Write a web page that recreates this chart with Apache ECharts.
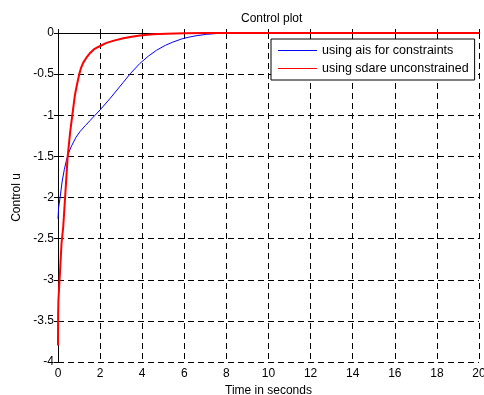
<!DOCTYPE html>
<html>
<head>
<meta charset="utf-8">
<script src="https://cdn.jsdelivr.net/npm/echarts@6/dist/echarts.min.js"></script>
<style>html,body{margin:0;padding:0;background:#fff}#c{width:484px;height:395px}</style>
</head>
<body>
<div id="c"></div>
<script>
var tBlue = [0, 0.03, 0.1, 0.2, 0.3, 0.4, 0.5, 0.65, 0.85, 1.04, 1.3, 1.52, 1.76, 2.0, 2.46, 3.1, 3.45, 3.89, 4.3, 4.68, 5.1, 5.46, 5.9, 6.26, 6.65, 7.05, 7.5, 8, 9, 20];
var uBlue = [-2.26, -2.12, -2.0, -1.8, -1.66, -1.55, -1.46, -1.37, -1.27, -1.2, -1.125, -1.065, -1.0, -0.935, -0.8, -0.6, -0.49, -0.37, -0.28, -0.21, -0.15, -0.11, -0.07, -0.048, -0.03, -0.016, -0.007, -0.002, 0, 0];
var tRed = [0, 0.005, 0.02, 0.1, 0.17, 0.25, 0.35, 0.46, 0.58, 0.68, 0.8, 0.9, 1.01, 1.1, 1.2, 1.35, 1.5, 1.7, 1.91, 2.3, 2.7, 3.1, 3.5, 3.89, 4.5, 5.15, 6, 7, 20];
var uRed = [-3.8, -3.45, -3.25, -2.88, -2.55, -2.35, -1.95, -1.5, -1.2, -1.0, -0.76, -0.63, -0.5, -0.42, -0.36, -0.3, -0.25, -0.2, -0.17, -0.12, -0.09, -0.065, -0.045, -0.03, -0.016, -0.008, -0.003, -0.001, 0];
var seriesNames = ['using ais for constraints', 'using sdare unconstrained'];
var titleText = 'Control plot';
var xName = 'Time in seconds';
var yName = 'Control u';

function pairs(t, u) { return t.map(function (v, i) { return [v, u[i]]; }); }

var font = 'Liberation Sans, Arial, sans-serif';
var chart = echarts.init(document.getElementById('c'), null, {renderer: 'canvas'});
var axisCommon = {
  axisLine: {show: true, lineStyle: {color: '#000', width: 1}},
  axisTick: {show: true, inside: true, length: 4, lineStyle: {color: '#000'}}
};
chart.setOption({
  animation: false,
  backgroundColor: '#fff',
  textStyle: {fontFamily: font},
  title: {
    text: titleText, left: 236, top: 8,
    textStyle: {fontSize: 12, fontWeight: 'normal', color: '#000', fontFamily: font}
  },
  grid: {left: 58, right: 5, top: 33, bottom: 33, outerBoundsMode: 'none', containLabel: false},
  legend: {
    orient: 'vertical', left: 271, top: 39,
    backgroundColor: '#fff', borderColor: '#000', borderWidth: 1, borderRadius: 0,
    padding: [5, 6, 5, 7], itemGap: 5, itemWidth: 39, itemHeight: 1,
    icon: 'rect',
    textStyle: {fontSize: 12.5, color: '#000', fontFamily: font},
    data: seriesNames
  },
  xAxis: [
    Object.assign({
      type: 'value', min: 0, max: 20, interval: 2, position: 'bottom',
      name: xName, nameLocation: 'middle', nameGap: 20,
      nameTextStyle: {fontSize: 12, color: '#000', fontFamily: font},
      axisLabel: {color: '#000', fontSize: 12, margin: 6, fontFamily: font},
      splitLine: {show: true, lineStyle: {type: [6, 4], color: '#000', width: 1}}
    }, axisCommon),
    Object.assign({
      type: 'value', min: 0, max: 20, interval: 2, position: 'top',
      axisLabel: {show: false}, splitLine: {show: false}
    }, axisCommon)
  ],
  yAxis: [
    Object.assign({
      type: 'value', min: -4, max: 0, interval: 0.5, position: 'left',
      name: yName, nameLocation: 'middle', nameGap: 32,
      nameTextStyle: {fontSize: 12, color: '#000', fontFamily: font},
      axisLabel: {color: '#000', fontSize: 12, margin: 4, fontFamily: font},
      splitLine: {show: true, lineStyle: {type: [6, 4], color: '#000', width: 1}}
    }, axisCommon),
    Object.assign({
      type: 'value', min: -4, max: 0, interval: 0.5, position: 'right',
      axisLabel: {show: false}, splitLine: {show: false}
    }, axisCommon)
  ],
  series: [
    {name: seriesNames[0], type: 'line', data: pairs(tBlue, uBlue), showSymbol: false, symbol: 'none',
     smooth: false, clip: false, lineStyle: {color: '#0000ff', width: 1}, itemStyle: {color: '#0000ff'}},
    {name: seriesNames[1], type: 'line', data: pairs(tRed, uRed), showSymbol: false, symbol: 'none',
     smooth: false, clip: false, lineStyle: {color: '#ff0000', width: 2}, itemStyle: {color: '#ff0000'}}
  ]
});
</script>
</body>
</html>
